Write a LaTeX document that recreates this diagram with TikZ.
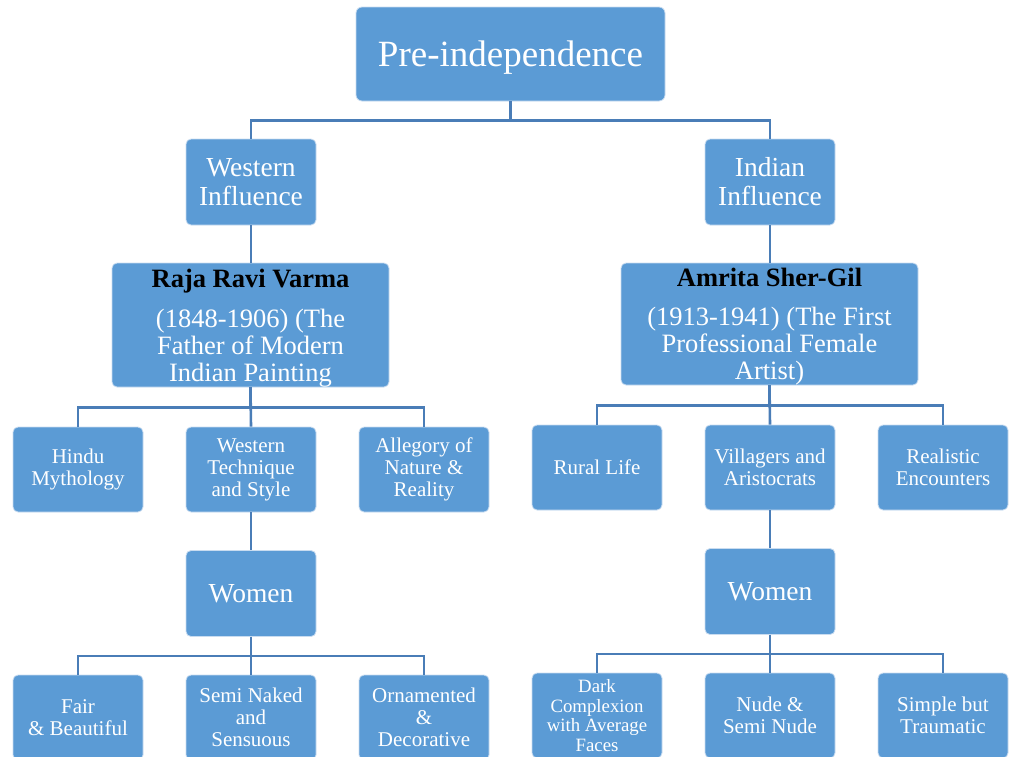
\documentclass[tikz,border=0pt]{standalone}
\usepackage{fontspec}
\setmainfont{Liberation Serif}
\definecolor{boxblue}{HTML}{5B9BD5}
\definecolor{connblue}{HTML}{4A7DB7}
\definecolor{edgeblue}{HTML}{C9DCF0}
\newcommand{\fsz}[2]{\fontsize{#1}{#2}\selectfont}
\tikzset{
  base/.style={rectangle, fill=boxblue, draw=edgeblue, line width=0.8pt, rounded corners=5pt,
    text=white, align=center, inner sep=0pt},
  small/.style={base, minimum width=130pt, minimum height=85pt, font=\fsz{21}{22}},
  mid/.style={base, minimum width=130pt, minimum height=86pt, font=\fsz{27.5}{29}},
  bigtxt/.style={text=white, align=center, inner sep=0pt, font=\fsz{26.5}{27}},
  conn/.style={draw=connblue, line width=2.6pt}
}
\begin{document}
\begin{tikzpicture}[x=1pt,y=-1pt]
\useasboundingbox (0,0) rectangle (1009,756);
\clip (0,0) rectangle (1009,756);
% root
\node[base, minimum width=309pt, minimum height=94pt, rounded corners=6pt, font=\fsz{37}{40}] (root) at (510.5,54) {\raisebox{-4pt}[\height][\depth]{Pre-independence}};
% level 1
\node[mid] (west) at (251,182) {Western\\Influence};
\node[mid] (ind) at (770,182) {Indian\\Influence};
% level 2
\node[base, minimum width=277pt, minimum height=124pt] (raja) at (250.5,325) {};
\node[bigtxt] (rajatxt) at ([yshift=-3pt]raja.center)
  {{\color{black}\bfseries Raja Ravi Varma}\\[13pt](1848-1906) (The\\Father of Modern\\Indian Painting};
\node[base, minimum width=297pt, minimum height=122pt] (amrita) at (769.5,324) {};
\node[bigtxt] (amritatxt) at ([yshift=-3pt]amrita.center)
  {{\color{black}\bfseries Amrita Sher-Gil}\\[12pt](1913-1941) (The First\\Professional Female\\Artist)};
% level 3 left
\node[small] (hindu) at (78,469.5) {Hindu\\Mythology};
\node[small] (wtech) at (251,469.5) {Western\\Technique\\and Style};
\node[small] (alleg) at (424,469.5) {Allegory of\\Nature \&\\Reality};
% level 3 right
\node[small] (rural) at (597,467.5) {Rural Life};
\node[small] (vill) at (770,467.5) {Villagers and\\Aristocrats};
\node[small] (real) at (943,467.5) {Realistic\\Encounters};
% women
\node[mid] (womenl) at (251,593.5) {Women};
\node[mid] (womenr) at (770,591.5) {Women};
% bottom left
\node[small] (fair) at (78,717.5) {Fair\\\& Beautiful};
\node[small] (semi) at (251,717.5) {Semi Naked\\and\\Sensuous};
\node[small] (orna) at (424,717.5) {Ornamented\\\&\\Decorative};
% bottom right
\node[small, font=\fsz{18.8}{19.5}] (dark) at (597,715.5) {Dark\\Complexion\\with Average\\Faces};
\node[small] (nude) at (770,715.5) {Nude \&\\Semi Nude};
\node[small] (simple) at (943,715.5) {Simple but\\Traumatic};
% connectors
\draw[conn] (root.south) -- ++(0,19) -| (west.north);
\draw[conn] (root.south) -- ++(0,19) -| (ind.north);
\draw[conn] (west.south) -- (west.south |- raja.north);
\draw[conn] (ind.south) -- (ind.south |- amrita.north);
\draw[conn] (raja.south) -- ++(0,20) -| (hindu.north);
\draw[conn] (raja.south) -- ++(0,20) -| (alleg.north);
\draw[conn] (raja.south) -- (wtech.north);
\draw[conn] (amrita.south) -- ++(0,20) -| (rural.north);
\draw[conn] (amrita.south) -- ++(0,20) -| (real.north);
\draw[conn] (amrita.south) -- (vill.north);
\draw[conn] (wtech.south) -- (womenl.north);
\draw[conn] (vill.south) -- (womenr.north);
\draw[conn] (womenl.south) -- ++(0,19) -| (fair.north);
\draw[conn] (womenl.south) -- ++(0,19) -| (orna.north);
\draw[conn] (womenl.south) -- (semi.north);
\draw[conn] (womenr.south) -- ++(0,19) -| (dark.north);
\draw[conn] (womenr.south) -- ++(0,19) -| (simple.north);
\draw[conn] (womenr.south) -- (nude.north);
\end{tikzpicture}
\end{document}
